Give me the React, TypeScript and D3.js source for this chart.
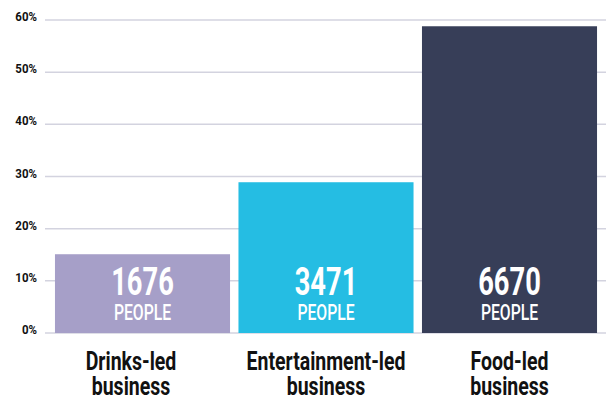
import React from "react";
import * as d3 from "d3";

const categories = ["Drinks-led business", "Entertainment-led business", "Food-led business"];
const shares = [15.1, 28.9, 58.8];
const people = ["1676", "3471", "6670"];
const colors = ["#a69fc8", "#25bde3", "#373e58"];
const ticks = [0, 10, 20, 30, 40, 50, 60];

const W = 606;
const H = 403;
const FONT = "Roboto, 'DejaVu Sans', sans-serif";
// horizontal nudge of the category labels (layout, not data)
const LABEL_DX = [-11.5, 0, 0];

export default function App() {
  const x = d3.scaleBand<string>().domain(categories).range([50.75, 601.25]).paddingInner(0.046).paddingOuter(0.023);
  const y = d3.scaleLinear().domain([0, 60]).range([333, 20]);

  return (
    <svg width={W} height={H} style={{ position: "absolute", left: 0, top: 0, background: "#fff" }}>
      {ticks.map((t) => (
        <g key={t}>
          <line x1={45} x2={W} y1={y(t)} y2={y(t)} stroke="#d3d3df" strokeWidth={1.5} />
          <g transform={`translate(37,${y(t) + 1}) scale(0.85,1)`}>
            <text textAnchor="end" fontFamily={FONT} fontWeight={700} fontSize={13.5} fill="#111">
              {t}%
            </text>
          </g>
        </g>
      ))}
      {categories.map((c, i) => {
        const bx = x(c)!;
        const bw = x.bandwidth();
        const cx = bx + bw / 2;
        const lines = c.split(" ");
        const lx = cx + LABEL_DX[i];
        return (
          <g key={c}>
            <rect x={bx} y={y(shares[i])} width={bw} height={y(0) - y(shares[i])} fill={colors[i]} />
            <g transform={`translate(${cx},295) scale(0.7,1)`}>
              <text textAnchor="middle" fontFamily={FONT} fill="#fff">
                <tspan x={0} y={0} fontWeight={700} fontSize={39}>{people[i]}</tspan>
                <tspan x={0} y={25} fontWeight={500} fontSize={22.5}>PEOPLE</tspan>
              </text>
            </g>
            <g transform={`translate(${lx},370) scale(0.78,1)`}>
              <text textAnchor="middle" fontFamily={FONT} fontWeight={700} fontSize={25} fill="#111">
                {lines.map((l, j) => (
                  <tspan key={j} x={0} y={j * 25}>{l}</tspan>
                ))}
              </text>
            </g>
          </g>
        );
      })}
    </svg>
  );
}
